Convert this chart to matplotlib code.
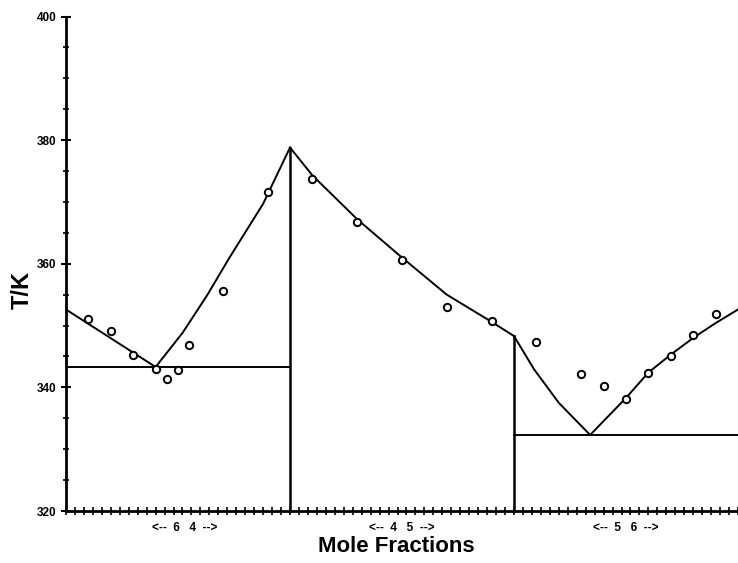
import matplotlib.pyplot as plt
import numpy as np

# measured points (circles)
x64 = [0.1, 0.2, 0.3, 0.4, 0.45, 0.5, 0.55, 0.7, 0.9]
t64 = [351.0, 349.1, 345.3, 342.9, 341.3, 342.8, 346.9, 355.6, 371.6]
x45 = [1.1, 1.3, 1.5, 1.7, 1.9]
t45 = [373.7, 366.8, 360.6, 353.0, 350.7]
x56 = [2.1, 2.3, 2.4, 2.5, 2.6, 2.7, 2.8, 2.9]
t56 = [347.4, 342.1, 340.3, 338.1, 342.3, 345.1, 348.4, 351.8]

# calculated liquidus curves
cx64 = [0.0, 0.4, 0.52, 0.63, 0.73, 0.88, 1.0]
ct64 = [352.6, 343.3, 348.8, 354.9, 361.0, 369.7, 378.8]
cx45 = [1.0, 1.1, 1.3, 1.5, 1.7, 1.9, 2.0]
ct45 = [378.8, 374.3, 367.2, 361.0, 355.0, 350.6, 348.3]
cx56 = [2.0, 2.09, 2.2, 2.34, 2.5, 2.6, 2.7, 2.8, 2.9, 3.0]
ct56 = [348.3, 342.9, 337.5, 332.3, 338.3, 342.4, 345.3, 348.0, 350.4, 352.6]

# eutectic temperatures
e64 = 343.3
e56 = 332.3

sections = ["<--  6   4  -->", "<--  4   5  -->", "<--  5   6  -->"]
section_x = [0.53, 1.5, 2.5]

plt.rcParams['font.family'] = ['Liberation Sans', 'DejaVu Sans']

fig = plt.figure(figsize=(7.38, 5.63), dpi=100)
ax = fig.add_axes([66 / 738, 1 - 511 / 563, 1 - 66 / 738, (511 - 16.5) / 563])

ax.plot(cx64, ct64, color="black", lw=1.4)
ax.plot(cx45, ct45, color="black", lw=1.4)
ax.plot(cx56, ct56, color="black", lw=1.4)

ax.plot([0, 1], [e64, e64], color="black", lw=1.4)
ax.plot([2, 3], [e56, e56], color="black", lw=1.4)
ax.plot([1, 1], [320, ct45[0]], color="black", lw=1.8)
ax.plot([2, 2], [320, ct56[0]], color="black", lw=1.8)

for xs, ts in [(x64, t64), (x45, t45), (x56, t56)]:
    ax.plot(xs, ts, "o", mfc="white", mec="black", mew=1.4, ms=5.3)

ax.set_xlim(0, 3)
ax.set_ylim(320, 400)
ax.spines["top"].set_visible(False)
ax.spines["right"].set_visible(False)
ax.spines["left"].set_linewidth(2)
ax.spines["bottom"].set_linewidth(2)

ax.set_yticks([320, 340, 360, 380, 400])
ax.set_yticks(np.arange(320, 401, 5), minor=True)
ax.set_xticks(np.arange(0, 3.001, 0.04))
ax.set_xticklabels([])
ax.tick_params(axis="y", which="major", direction="inout", length=7, width=1.5,
               labelsize=8.5)
ax.tick_params(axis="y", which="minor", direction="inout", length=5, width=1.2)
ax.tick_params(axis="x", which="major", direction="inout", length=6, width=1.2)
for lab in ax.get_yticklabels():
    lab.set_fontweight("bold")

for s, sx in zip(sections, section_x):
    ax.text(sx, -0.034, s, transform=ax.get_xaxis_transform(), ha="center",
            va="center", fontsize=8.5, fontweight="bold")

fig.text(396 / 738, 1 - 546 / 563, "Mole Fractions", ha="center", va="center",
         fontsize=16, fontweight="bold")
fig.text(22 / 738, 1 - 290 / 563, "T/K", ha="center", va="center",
         rotation=90, fontsize=17, fontweight="bold")

fig.savefig("out.png", dpi=100)
